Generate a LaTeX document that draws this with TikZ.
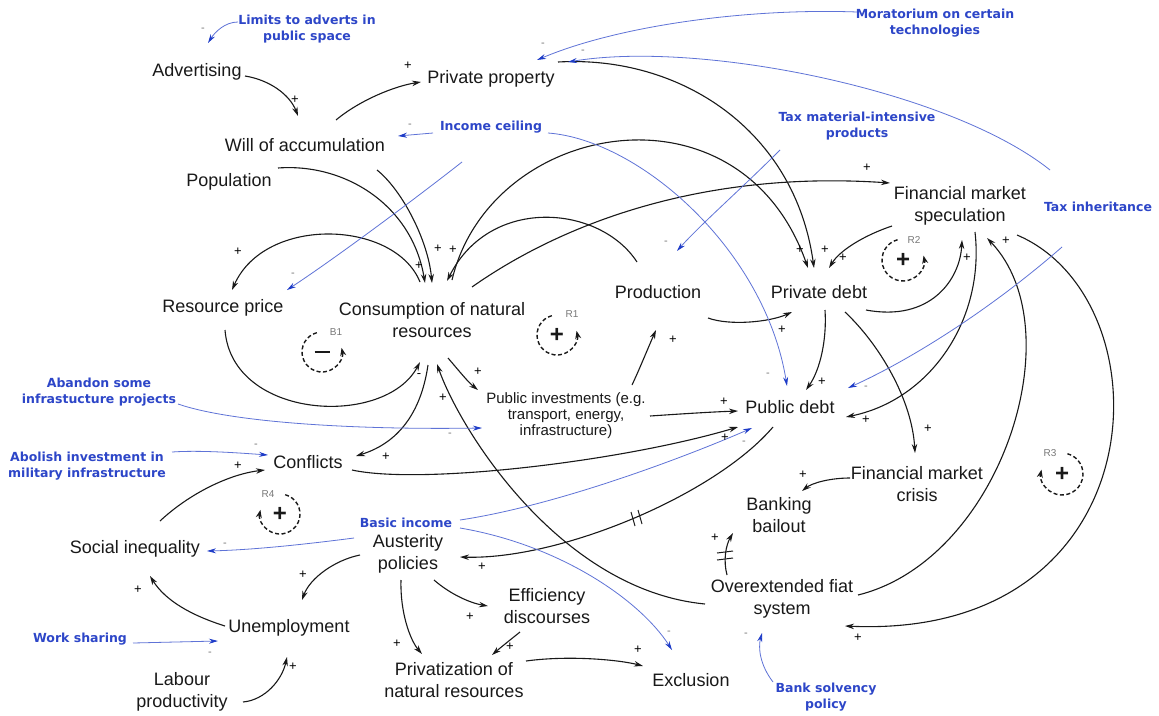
\documentclass[tikz,border=0pt]{standalone}
\usepackage{fontspec}
\setmainfont{Liberation Sans}
\newfontfamily\polfamily{DejaVu Sans}
\usetikzlibrary{arrows.meta}
\definecolor{linkblue}{RGB}{95,115,215}
\definecolor{tipblue}{RGB}{30,60,200}
\definecolor{polblue}{RGB}{45,70,200}
\definecolor{loopgray}{RGB}{120,120,120}
\definecolor{ink}{RGB}{25,25,25}
\begin{document}
\begin{tikzpicture}[x=1pt,y=-1pt,
  var/.style={font=\fontsize{18}{21.5}\selectfont, text=ink, align=center, inner sep=0pt},
  smallvar/.style={font=\fontsize{15}{16}\selectfont, text=ink, align=center, inner sep=0pt},
  pol/.style={font=\polfamily\bfseries\fontsize{12.5}{16}\selectfont, text=polblue, align=center, inner sep=0pt},
  sgn/.style={font=\fontsize{13}{13}\selectfont, inner sep=0pt},
  msgn/.style={font=\fontsize{11}{11}\selectfont, text=loopgray, inner sep=0pt},
  arr/.style={draw=ink, line width=1.1pt, -{Stealth[length=9pt,width=5.5pt]}},
  barr/.style={draw=linkblue, line width=0.8pt, -{Stealth[length=9pt,width=5pt,color=tipblue]}},
  looplab/.style={font=\fontsize{10}{10}\selectfont, text=loopgray, inner sep=0pt},
  loopsign/.style={font=\bfseries\fontsize{24}{24}\selectfont, text=ink, inner sep=0pt},
  loopline/.style={draw=ink, line width=1.4pt, dash pattern=on 4pt off 2.5pt, -{Stealth[length=8pt,width=6pt]}},
  delay/.style={draw=ink, line width=1pt},
]
\fill[white] (0,0) rectangle (1159,715);
\useasboundingbox (0,0) rectangle (1159,715);

% ---------- variables ----------
\node[var] (adv)   at (197,72)  {Advertising};
\node[var] (pp)    at (491,79)  {Private property};
\node[var] (will)  at (305,145) {Will of accumulation};
\node[var] (pop)   at (229,182) {Population};
\node[var] (fms)   at (960,206) {Financial market\\speculation};
\node[var] (rp)    at (223,308) {Resource price};
\node[var] (cons)  at (432,320) {Consumption of natural\\resources};
\node[var] (prod)  at (658,292) {Production};
\node[var] (pd)    at (819,292) {Private debt};
\node[smallvar] (pinv) at (566,416) {Public investments (e.g.\\transport, energy,\\infrastructure)};
\node[var] (pub)   at (790,407) {Public debt};
\node[var] (conf)  at (308,462) {Conflicts};
\node[var] (fmc)   at (917,484) {Financial market\\crisis};
\node[var] (bb)    at (779,515) {Banking\\bailout};
\node[var] (aus)   at (408,554) {Austerity\\policies};
\node[var] (soc)   at (135,549) {Social inequality};
\node[var] (eff)   at (547,606) {Efficiency\\discourses};
\node[var] (unemp) at (289,628) {Unemployment};
\node[var] (lab)   at (182,692) {Labour\\productivity};
\node[var] (priv)  at (454,680) {Privatization of\\natural resources};
\node[var] (excl)  at (691,680) {Exclusion};
\node[var] (ofs)   at (782,599) {Overextended fiat\\system};

% ---------- policies ----------
\node[pol] (lim)   at (307,29)  {Limits to adverts in\\public space};
\node[pol] (inc)   at (491,127) {Income ceiling};
\node[pol] (mor)   at (935,23)  {Moratorium on certain\\technologies};
\node[pol] (tmi)   at (857,126) {Tax material-intensive\\products};
\node[pol] (tinh)  at (1098,207) {Tax inheritance};
\node[pol] (aban)  at (99,392)  {Abandon some\\infrastucture projects};
\node[pol] (abol)  at (87,466)  {Abolish investment in\\military infrastructure};
\node[pol] (basic) at (406,523) {Basic income};
\node[pol] (work)  at (80,639)  {Work sharing};
\node[pol] (bsp)   at (826,697) {Bank solvency\\policy};
\coordinate (rpsrc) at (462,162);

% ---------- black links ----------
\draw[arr] ([shift={(48,4)}]adv.center) .. controls (270,80) and (290,95) .. ([shift={(-7,-29)}]will.center);
\draw[arr] ([shift={(31,-25)}]will.center) .. controls (360,100) and (395,86) .. ([shift={(-70,3)}]pp.center);
\draw[arr] ([shift={(49,-14)}]pop.center) .. controls (345,163) and (412,205) .. ([shift={(-7,-37)}]cons.center);
\draw[arr] ([shift={(72,25)}]will.center) .. controls (402,190) and (428,240) .. ([shift={(0,-37)}]cons.center);
\draw[arr] ([shift={(-12,-38)}]cons.center) .. controls (395,220) and (265,215) .. ([shift={(9,-18)}]rp.center);
\draw[arr] ([shift={(2,22)}]rp.center) .. controls (232,420) and (385,428) .. ([shift={(-12,42)}]cons.center);
\draw[arr] ([shift={(-21,-30)}]prod.center) .. controls (600,205) and (490,195) .. ([shift={(15,-39)}]cons.center);
\draw[arr] ([shift={(20,-40)}]cons.center) .. controls (490,120) and (740,75) .. ([shift={(-11,-24)}]pd.center);
\draw[arr] ([shift={(67,-17)}]pp.center) .. controls (680,55) and (795,130) .. ([shift={(-5,-24)}]pd.center);
\draw[arr] ([shift={(40,-33)}]cons.center) .. controls (560,225) and (700,170) .. ([shift={(-70,-23)}]fms.center);
\draw[arr] ([shift={(16,38)}]cons.center) .. controls (460,372) and (468,382) .. ([shift={(-88,-26)}]pinv.center);
\draw[arr] ([shift={(-4,45)}]cons.center) .. controls (420,420) and (392,445) .. ([shift={(48,-6)}]conf.center);
\draw[arr] ([shift={(-77,5)}]ofs.center) .. controls (560,590) and (460,430) .. ([shift={(5,44)}]cons.center);
\draw[arr] ([shift={(66,-31)}]pinv.center) .. controls (640,368) and (648,348) .. ([shift={(-2,38)}]prod.center);
\draw[arr] ([shift={(84,0)}]pinv.center) .. controls (680,414) and (710,412) .. ([shift={(-52,4)}]pub.center);
\draw[arr] ([shift={(44,8)}]conf.center) .. controls (420,485) and (620,462) .. ([shift={(-52,20)}]pub.center);
\draw[arr] ([shift={(50,26)}]prod.center) .. controls (730,326) and (770,322) .. ([shift={(-27,20)}]pd.center);
\draw[arr] ([shift={(6,18)}]pd.center) .. controls (827,340) and (820,370) .. ([shift={(16,-17)}]pub.center);
\draw[arr] ([shift={(47,18)}]pd.center) .. controls (930,322) and (960,280) .. ([shift={(2,34)}]fms.center);
\draw[arr] ([shift={(-68,20)}]fms.center) .. controls (865,235) and (840,250) .. ([shift={(10,-24)}]pd.center);
\draw[arr] ([shift={(15,26)}]fms.center) .. controls (985,320) and (930,400) .. ([shift={(56,10)}]pub.center);
\draw[arr] ([shift={(26,20)}]pd.center) .. controls (880,345) and (912,400) .. ([shift={(-2,-31)}]fmc.center);
\draw[arr] ([shift={(76,-4)}]ofs.center) .. controls (1000,560) and (1075,330) .. ([shift={(27,32)}]fms.center);
\draw[arr] ([shift={(57,29)}]fms.center) .. controls (1170,300) and (1160,640) .. ([shift={(63,27)}]ofs.center);
\draw[arr] ([shift={(-67,-6)}]fmc.center) .. controls (830,478) and (812,483) .. ([shift={(23,-24)}]bb.center);
\draw[arr] ([shift={(-55,-24)}]ofs.center) .. controls (723,560) and (726,545) .. ([shift={(-46,18)}]bb.center);
\draw[arr] ([shift={(-17,20)}]pub.center) .. controls (715,495) and (560,560) .. ([shift={(52,3)}]aus.center);
\draw[arr] ([shift={(-48,1)}]aus.center) .. controls (335,560) and (310,578) .. ([shift={(13,-28)}]unemp.center);
\draw[arr] ([shift={(-7,26)}]aus.center) .. controls (400,612) and (410,640) .. ([shift={(-32,-26)}]priv.center);
\draw[arr] ([shift={(26,26)}]aus.center) .. controls (450,594) and (470,603) .. ([shift={(-59,0)}]eff.center);
\draw[arr] ([shift={(-27,26)}]eff.center) .. controls (510,640) and (500,648) .. ([shift={(38,-25)}]priv.center);
\draw[arr] ([shift={(72,-19)}]priv.center) .. controls (570,655) and (620,660) .. ([shift={(-48,-14)}]excl.center);
\draw[arr] ([shift={(-64,-2)}]unemp.center) .. controls (190,615) and (165,600) .. ([shift={(15,27)}]soc.center);
\draw[arr] ([shift={(61,10)}]lab.center) .. controls (265,700) and (282,680) .. ([shift={(-2,29)}]unemp.center);
\draw[arr] ([shift={(25,-28)}]soc.center) .. controls (190,493) and (230,474) .. ([shift={(-43,8)}]conf.center);

% delay marks
\draw[delay] (717,553) -- (733,551);
\draw[delay] (717,560) -- (733,558);
\draw[delay] (631,512) -- (635,526);
\draw[delay] (638,510) -- (642,524);

% ---------- blue policy links ----------
\draw[barr] ([shift={(-69,-7)}]lim.center) .. controls (225,22) and (215,32) .. ([shift={(11,-29)}]adv.center);
\draw[barr] ([shift={(-58,6)}]inc.center) -- ([shift={(93,-9)}]will.center);
\draw[barr] ([shift={(57,6)}]inc.center) .. controls (640,140) and (765,250) .. ([shift={(-3,-21)}]pub.center);
\draw[barr] ([shift={(-78,-11)}]mor.center) .. controls (750,8) and (620,25) .. ([shift={(46,-19)}]pp.center);
\draw[barr] ([shift={(-48,-37)}]tinh.center) .. controls (950,90) and (700,40) .. ([shift={(77,-17)}]pp.center);
\draw[barr] ([shift={(-77,24)}]tmi.center) .. controls (740,190) and (700,225) .. ([shift={(19,-41)}]prod.center);
\draw[barr] ([shift={(-36,40)}]tinh.center) .. controls (990,310) and (910,360) .. ([shift={(58,-19)}]pub.center);
\draw[barr] (rpsrc) .. controls (420,195) and (340,255) .. ([shift={(64,-18)}]rp.center);
\draw[barr] ([shift={(79,12)}]aban.center) .. controls (230,422) and (350,430) .. ([shift={(-84,12)}]pinv.center);
\draw[barr] ([shift={(85,-14)}]abol.center) .. controls (200,450) and (240,453) .. ([shift={(-40,-7)}]conf.center);
\draw[barr] ([shift={(-52,15)}]basic.center) .. controls (300,545) and (250,550) .. ([shift={(72,2)}]soc.center);
\draw[barr] ([shift={(54,-3)}]basic.center) .. controls (560,505) and (690,455) .. ([shift={(-38,21)}]pub.center);
\draw[barr] ([shift={(54,5)}]basic.center) .. controls (560,545) and (640,600) .. ([shift={(-19,-30)}]excl.center);
\draw[barr] ([shift={(53,4)}]work.center) -- ([shift={(-71,13)}]unemp.center);
\draw[barr] ([shift={(-53,-15)}]bsp.center) .. controls (760,665) and (758,648) .. ([shift={(-20,34)}]ofs.center);

% ---------- polarity signs ----------
\node[sgn] (s1) at (295,100) {+};
\node[sgn] (s2) at (408,66) {+};
\node[sgn] (s3) at (419,266) {+};
\node[sgn] (s4) at (438,249) {+};
\node[sgn] (s5) at (453,250) {+};
\node[sgn] (s6) at (238,252) {+};
\node[sgn] (s7) at (419,376) {-};
\node[sgn] (s8) at (478,372) {+};
\node[sgn] (s9) at (386,457) {+};
\node[sgn] (s10) at (443,398) {+};
\node[sgn] (s11) at (673,340) {+};
\node[sgn] (s12) at (724,402) {+};
\node[sgn] (s13) at (725,438) {+};
\node[sgn] (s14) at (782,330) {+};
\node[sgn] (s15) at (822,382) {+};
\node[sgn] (s16) at (967,258) {+};
\node[sgn] (s17) at (843,258) {+};
\node[sgn] (s18) at (866,420) {+};
\node[sgn] (s19) at (928,429) {+};
\node[sgn] (s20) at (1006,241) {+};
\node[sgn] (s21) at (858,638) {+};
\node[sgn] (s22) at (803,475) {+};
\node[sgn] (s23) at (715,538) {+};
\node[sgn] (s24) at (482,567) {+};
\node[sgn] (s25) at (303,575) {+};
\node[sgn] (s26) at (397,644) {+};
\node[sgn] (s27) at (470,617) {+};
\node[sgn] (s28) at (510,647) {+};
\node[sgn] (s29) at (638,650) {+};
\node[sgn] (s30) at (138,590) {+};
\node[sgn] (s31) at (293,667) {+};
\node[sgn] (s32) at (238,466) {+};
\node[sgn] (s33) at (800,250) {+};
\node[sgn] (s34) at (825,250) {+};
\node[sgn] (s35) at (867,168) {+};
\node[msgn] (m1) at (203,30) {-};
\node[msgn] (m2) at (410,126) {-};
\node[msgn] (m3) at (768,375) {-};
\node[msgn] (m4) at (543,45) {-};
\node[msgn] (m5) at (583,52) {-};
\node[msgn] (m6) at (666,243) {-};
\node[msgn] (m7) at (866,388) {-};
\node[msgn] (m8) at (293,275) {-};
\node[msgn] (m9) at (450,435) {-};
\node[msgn] (m10) at (256,446) {-};
\node[msgn] (m11) at (225,545) {-};
\node[msgn] (m12) at (744,443) {-};
\node[msgn] (m13) at (669,633) {-};
\node[msgn] (m14) at (210,654) {-};
\node[msgn] (m15) at (746,635) {-};

% ---------- loop markers ----------
\coordinate (b1c) at (322,352);
\coordinate (r1c) at (557,335);
\coordinate (r2c) at (903,260);
\coordinate (r3c) at (1062,474);
\coordinate (r4c) at (280,514);
\begin{scope}[shift={(b1c)}, x=1pt, y=1pt]
  \draw[loopline] (105:20) arc[start angle=105, end angle=372, radius=20];
\end{scope}
\begin{scope}[shift={(r1c)}, x=1pt, y=1pt]
  \draw[loopline] (105:20) arc[start angle=105, end angle=372, radius=20];
\end{scope}
\begin{scope}[shift={(r2c)}, x=1pt, y=1pt]
  \draw[loopline] (105:21) arc[start angle=105, end angle=372, radius=21];
\end{scope}
\begin{scope}[shift={(r3c)}, x=1pt, y=1pt]
  \draw[loopline] (75:21) arc[start angle=75, end angle=-192, radius=21];
\end{scope}
\begin{scope}[shift={(r4c)}, x=1pt, y=1pt]
  \draw[loopline] (75:20) arc[start angle=75, end angle=-192, radius=20];
\end{scope}
\node[loopsign] (b1s) at (b1c) {\rule{15pt}{2.6pt}};
\node[looplab] (b1l) at (336,332) {B1};
\node[loopsign] (r1s) at (r1c) {+};
\node[looplab] (r1l) at (572,314) {R1};
\node[loopsign] (r2s) at (r2c) {+};
\node[looplab] (r2l) at (914,240) {R2};
\node[loopsign] (r3s) at (r3c) {+};
\node[looplab] (r3l) at (1050,453) {R3};
\node[loopsign] (r4s) at (r4c) {+};
\node[looplab] (r4l) at (268,494) {R4};
\end{tikzpicture}
\end{document}
